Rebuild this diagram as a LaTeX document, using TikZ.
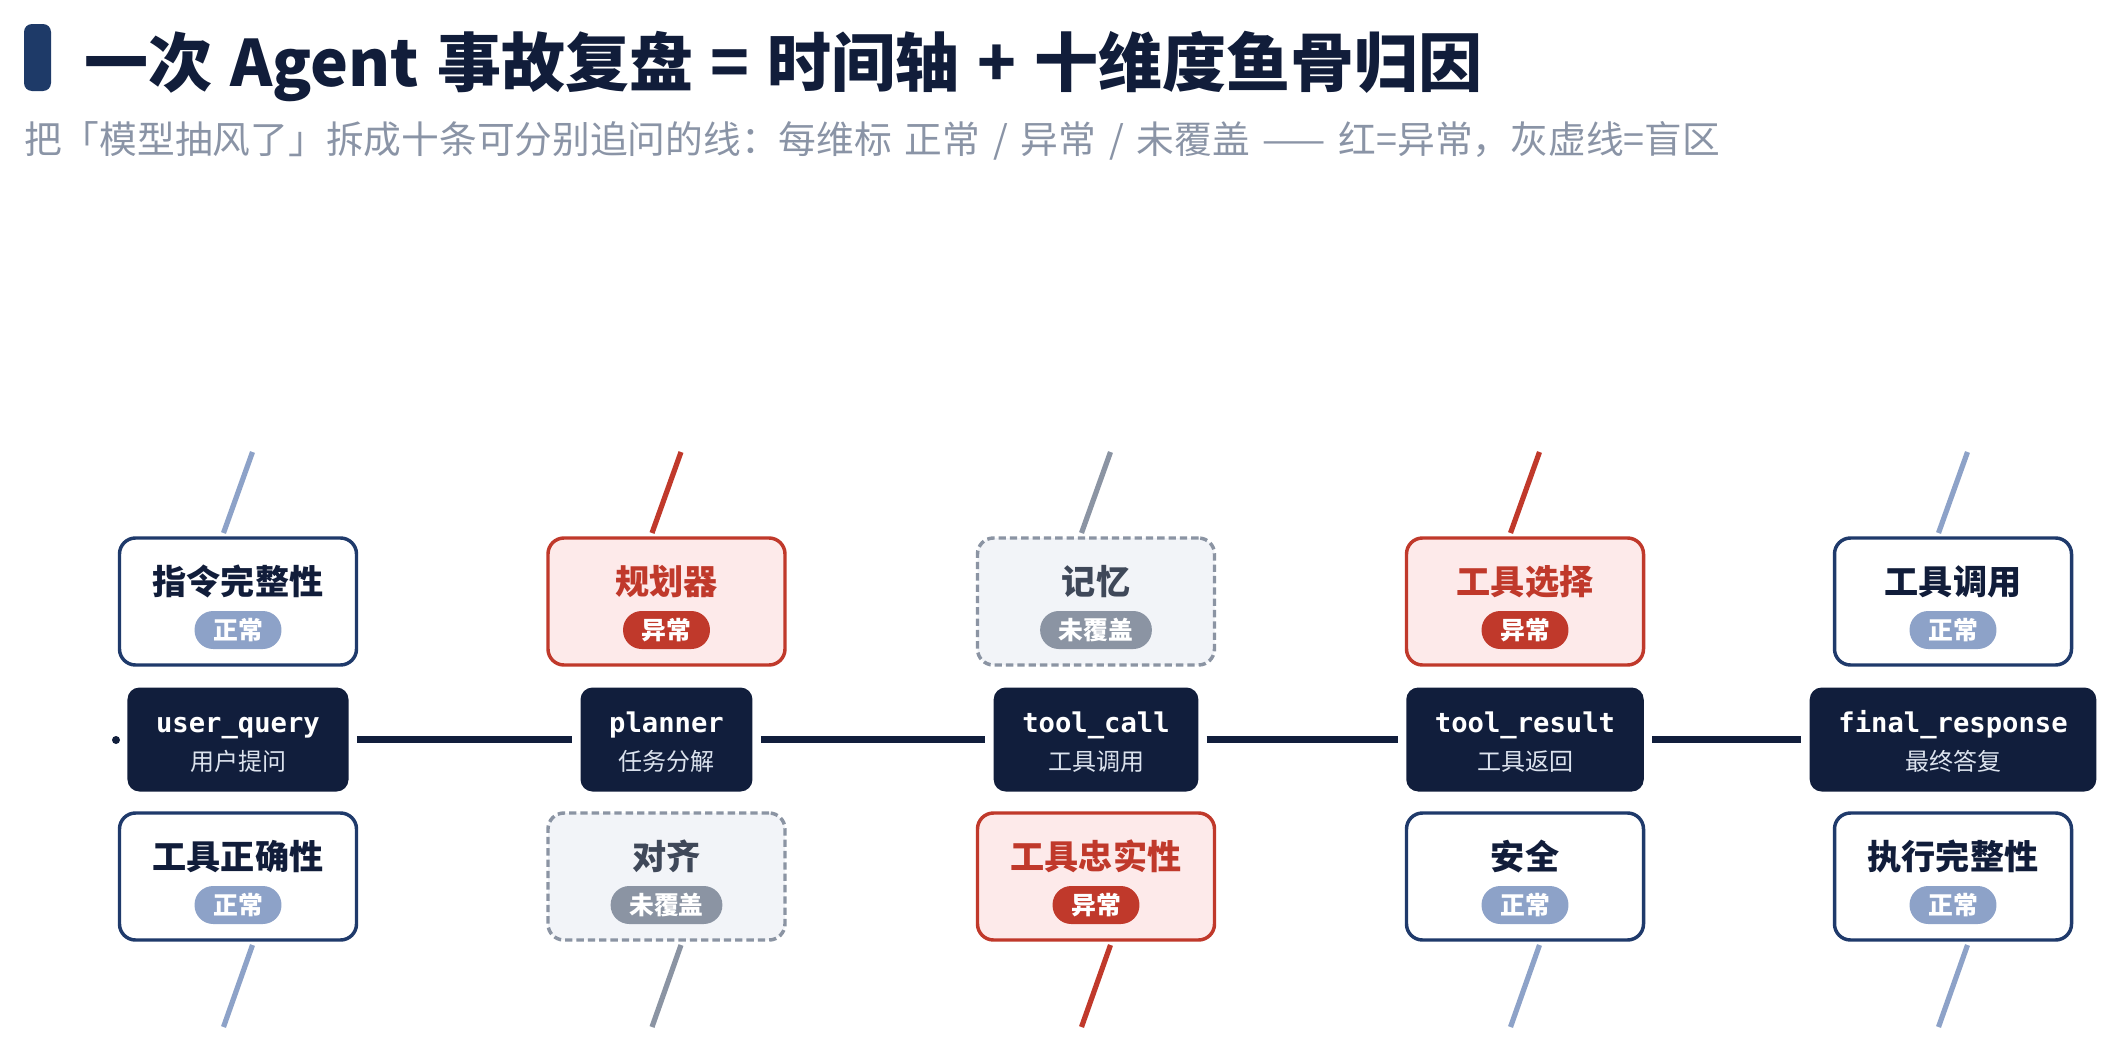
\documentclass[tikz,border=0pt]{standalone}
\usepackage{fontspec}
\setmainfont{Noto Sans CJK SC}
\setmonofont{DejaVu Sans Mono}
\definecolor{navyfill}{HTML}{111E3C}
\definecolor{navyline}{HTML}{1F3A6B}
\definecolor{navybar}{HTML}{1E3A68}
\definecolor{inkdark}{HTML}{111D3A}
\definecolor{normblue}{HTML}{8DA2C8}
\definecolor{abnred}{HTML}{C0392B}
\definecolor{abnfill}{HTML}{FDEAEA}
\definecolor{uncgray}{HTML}{8B94A3}
\definecolor{uncfill}{HTML}{F2F4F8}
\definecolor{unctext}{HTML}{3F4859}
\definecolor{subgray}{HTML}{8A94A6}
\definecolor{evsubc}{HTML}{DCE3EE}
\newcommand\tsp{\hspace{0.28em}}
\newcommand\ssp{\hspace{0.34em}}
\tikzset{
  spine/.style={draw=navyfill, line width=5.25pt, shorten <=6pt, shorten >=6pt},
  eventbox/.style={fill=navyfill, rounded corners=9pt, inner xsep=21.5pt, inner ysep=0pt,
    minimum height=78pt, text height=0pt, text depth=10.2pt, text=white,
    font=\ttfamily\bfseries\fontsize{20.4}{24}\selectfont},
  eventsub/.style={anchor=base, text=evsubc, inner sep=0pt, font=\fontsize{18}{22}\selectfont},
  dimbox/.style={minimum width=177.75pt, minimum height=95.25pt, rounded corners=12pt,
    line width=2.6pt, inner sep=0pt},
  box-normal/.style={draw=navyline, fill=white},
  box-abn/.style={draw=abnred, fill=abnfill},
  box-unc/.style={draw=uncgray, fill=uncfill, dash pattern=on 5.5pt off 3pt},
  dimtitle/.style={anchor=base, inner sep=0pt, font=\bfseries\fontsize{25.6}{30}\selectfont},
  title-normal/.style={text=inkdark},
  title-abn/.style={text=abnred},
  title-unc/.style={text=unctext},
  badge/.style={rounded corners=14pt, minimum height=28.5pt, inner xsep=14pt, inner ysep=0pt,
    text=white, font=\bfseries\fontsize{18.6}{22}\selectfont, text height=15.4pt, text depth=1.3pt},
  badge-normal/.style={fill=normblue},
  badge-abn/.style={fill=abnred},
  badge-unc/.style={fill=uncgray},
  bone/.style={line width=3.9pt},
  bone-normal/.style={draw=normblue},
  bone-abn/.style={draw=abnred},
  bone-unc/.style={draw=uncgray},
}
\begin{document}
\begin{tikzpicture}[x=0.75pt,y=-0.75pt]
\useasboundingbox[fill=white] (0,0) rectangle (2121,1053);
% header
\fill[navybar, rounded corners=6pt] (24,24) rectangle (51,91);
\node[anchor=base west, inner sep=0pt, text=inkdark, font=\bfseries\fontsize{48}{58}\selectfont]
  (title) at (84,86) {一次\tsp Agent\tsp 事故复盘\tsp =\tsp 时间轴\tsp +\tsp 十维度鱼骨归因};
\node[anchor=base west, inner sep=0pt, text=subgray, font=\fontsize{28.3}{34}\selectfont]
  (subtitle) at (24,153) {把「模型抽风了」拆成十条可分别追问的线：每维标\ssp 正常\ssp /\ssp 异常\ssp /\ssp 未覆盖\ssp ——\ssp 红=异常，灰虚线=盲区};
% columns
\foreach \i/\cx/\ev/\evs/\tt/\ts/\tl/\bt/\bs/\bl in {
  1/238/user\_query/用户提问/指令完整性/normal/正常/工具正确性/normal/正常,
  2/666.5/planner/任务分解/规划器/abn/异常/对齐/unc/未覆盖,
  3/1096/tool\_call/工具调用/记忆/unc/未覆盖/工具忠实性/abn/异常,
  4/1525/tool\_result/工具返回/工具选择/abn/异常/安全/normal/正常,
  5/1953/final\_response/最终答复/工具调用/normal/正常/执行完整性/normal/正常}{
  % bones
  \coordinate (tu\i) at (\cx+14.5,452);
  \coordinate (td\i) at (\cx-14.5,533);
  \coordinate (bu\i) at (\cx+14.5,945);
  \coordinate (bd\i) at (\cx-14.5,1027);
  \draw[bone, bone-\ts] (tu\i) -- (td\i);
  \draw[bone, bone-\bs] (bu\i) -- (bd\i);
  % top dimension
  \node[dimbox, box-\ts] (t\i) at (\cx,601.5) {};
  \node[dimtitle, title-\ts] (tt\i) at (\cx,594) {\tt};
  \node[badge, badge-\ts] (tb\i) at (\cx,630) {\tl};
  % bottom dimension
  \node[dimbox, box-\bs] (b\i) at (\cx,876.5) {};
  \node[dimtitle, title-\bs] (bt\i) at (\cx,869) {\bt};
  \node[badge, badge-\bs] (bb\i) at (\cx,905) {\bl};
  % event
  \node[eventbox] (e\i) at (\cx,739.5) {\ev};
  \node[eventsub] (es\i) at (\cx,770.5) {\evs};
}
% spine
\fill[navyfill] (116,740) circle (3pt);
\draw[spine] (e1) -- (e2);
\draw[spine] (e2) -- (e3);
\draw[spine] (e3) -- (e4);
\draw[spine] (e4) -- (e5);
\end{tikzpicture}
\end{document}
